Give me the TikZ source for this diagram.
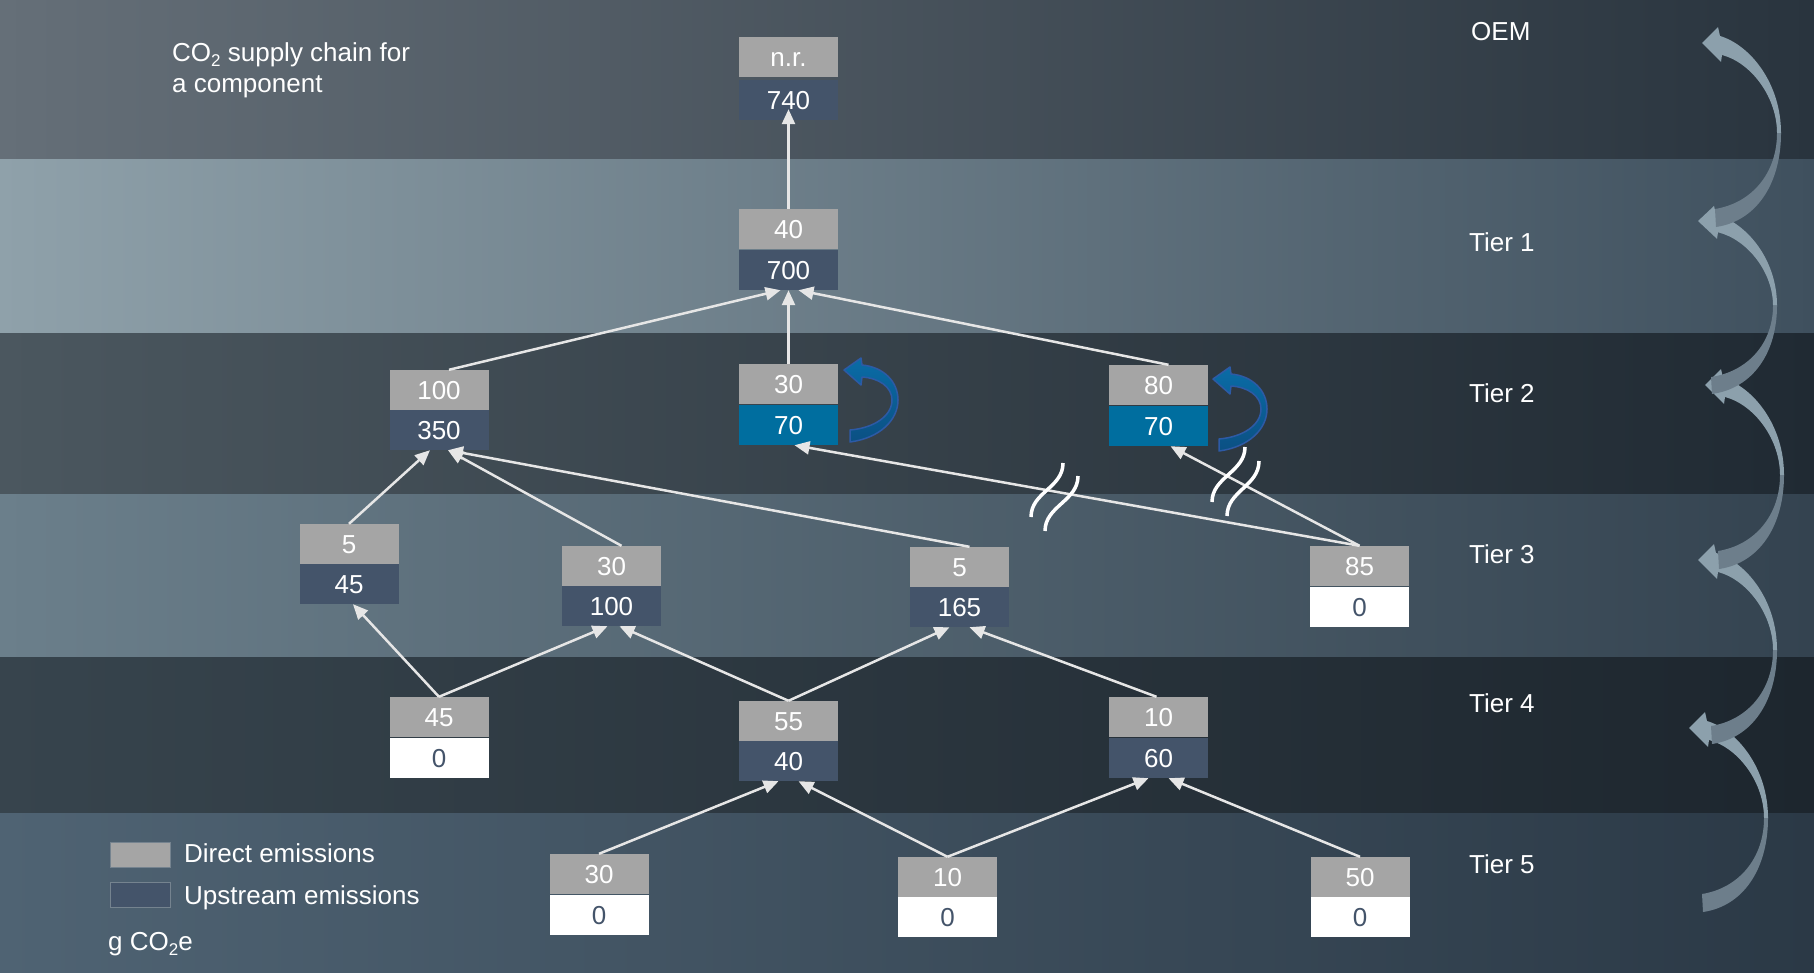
\documentclass[tikz,border=0pt]{standalone}
\usepackage{fontspec}
\setmainfont{Liberation Sans}
\usetikzlibrary{arrows.meta,calc}

\definecolor{dgray}{HTML}{A5A5A5}
\definecolor{navy}{HTML}{44546A}
\definecolor{hlblue}{HTML}{006E9F}
\definecolor{conn}{HTML}{E6E6E6}
\definecolor{arrlight}{HTML}{8CA0AC}
\definecolor{arrdark}{HTML}{6D7E8B}
\definecolor{loopTop}{HTML}{0A6CA6}
\definecolor{loopBot}{HTML}{0B5083}
\definecolor{loopEdge}{HTML}{2D5AA5}
\definecolor{lgedge}{HTML}{75838F}

\newcommand\subtwo{\raisebox{-0.22em}{\fontsize{17}{17}\selectfont 2}}
% one emission box: direct part on top, upstream part below (#7 = gap)
\newcommand\emibox[7][1]{%
  \node[direct] (#2g) at (#3,#4+20) {#5};
  \node[#7] (#2u) at (#3,#4+60+#1) {#6};}

\tikzset{
  direct/.style={fill=dgray, text=white, minimum width=99pt, minimum height=40pt, inner sep=0pt,
    text height=18.6pt, text depth=0pt},
  upstream/.style={direct, fill=navy},
  hl/.style={direct, fill=hlblue},
  nil/.style={direct, fill=white, text=navy},
  link/.style={draw=conn, line width=2.5pt, -{Triangle[length=15pt,width=13pt]}},
  brk/.style={draw=white, line width=3.5pt},
  lbl/.style={text=white, anchor=base west, inner sep=0pt},
  tierarrow/.pic={
    \fill[arrlight] (0,0) -- (16,-16) -- (18,-7) .. controls (48,2) and (79,40) .. (79,90)
      -- (75,90) .. controls (75,55) and (50,20) .. (20,12) -- (19,19) -- cycle;
    \fill[arrdark] (79,90) .. controls (79,140) and (55,178) .. (14,184)
      -- (13,166) .. controls (50,160) and (75,130) .. (75,90) -- cycle;
  },
  loopback/.pic={
    \shadedraw[top color=loopTop, bottom color=loopBot, draw=loopEdge, line width=1.5pt, line join=round]
      (0,0) -- (17,-12) -- (18,-5) .. controls (40,-3) and (54,12) .. (54,30)
      .. controls (54,50) and (36,68) .. (6,72) -- (6,60)
      .. controls (30,58) and (48,46) .. (48,30) .. controls (48,17) and (35,8) .. (18,7)
      -- (17,15) -- cycle;
  }
}

\begin{document}
\begin{tikzpicture}[x=1pt,y=-1pt,font=\fontsize{26}{31}\selectfont]
\useasboundingbox (0,0) rectangle (1814,972);

% tier bands
\shade[left color={rgb,255:red,101;green,111;blue,120}, middle color={rgb,255:red,76;green,88;blue,98}, right color={rgb,255:red,41;green,52;blue,62}] (0,0) rectangle (1814,159);
\shade[left color={rgb,255:red,143;green,161;blue,170}, middle color={rgb,255:red,111;green,130;blue,142}, right color={rgb,255:red,63;green,80;blue,94}] (0,159) rectangle (1814,333);
\shade[left color={rgb,255:red,75;green,87;blue,95}, middle color={rgb,255:red,55;green,67;blue,77}, right color={rgb,255:red,32;green,42;blue,51}] (0,333) rectangle (1814,494);
\shade[left color={rgb,255:red,107;green,127;blue,139}, middle color={rgb,255:red,83;green,103;blue,118}, right color={rgb,255:red,52;green,67;blue,80}] (0,494) rectangle (1814,657);
\shade[left color={rgb,255:red,55;green,68;blue,77}, middle color={rgb,255:red,43;green,55;blue,64}, right color={rgb,255:red,29;green,38;blue,46}] (0,657) rectangle (1814,813);
\shade[left color={rgb,255:red,79;green,99;blue,115}, middle color={rgb,255:red,65;green,83;blue,100}, right color={rgb,255:red,43;green,57;blue,70}] (0,813) rectangle (1814,972);

% title
\node[lbl] (title1) at (172,61) {CO\subtwo\ supply chain for};
\node[lbl] (title2) at (172,92) {a component};

% tier labels
\node[lbl] (oemlbl) at (1471,40) {OEM};
\node[lbl] (tier1) at (1469,251) {Tier 1};
\node[lbl] (tier2) at (1469,402) {Tier 2};
\node[lbl] (tier3) at (1469,563) {Tier 3};
\node[lbl] (tier4) at (1469,712) {Tier 4};
\node[lbl] (tier5) at (1469,873) {Tier 5};

% emission boxes
\emibox[3]{oem}{788.5}{37}{n.r.}{740}{upstream}
\emibox{ta}{788.5}{209}{40}{700}{upstream}
\emibox[0]{sa}{439}{370}{100}{350}{upstream}
\emibox{sb}{788.5}{364}{30}{70}{hl}
\emibox{sc}{1158.5}{365}{80}{70}{hl}
\emibox[0]{ra}{349}{524}{5}{45}{upstream}
\emibox[0]{rb}{611.5}{546}{30}{100}{upstream}
\emibox[0]{rc}{959.5}{547}{5}{165}{upstream}
\emibox{rd}{1359.5}{546}{85}{0}{nil}
\emibox{qa}{439}{697}{45}{0}{nil}
\emibox[0]{qb}{788.5}{701}{55}{40}{upstream}
\emibox{qc}{1158.5}{697}{10}{60}{upstream}
\emibox{pa}{599}{854}{30}{0}{nil}
\emibox[0]{pb}{947.5}{857}{10}{0}{nil}
\emibox[0]{pc}{1360}{857}{50}{0}{nil}

% supply links
\draw[link, shorten >=-11pt] (tag.north) -- (oemu.south);
\draw[link] ([xshift=10pt]sag.north) -- ([xshift=-8pt]tau.south);
\draw[link] (sbg.north) -- (tau.south);
\draw[link] ([xshift=10pt]scg.north) -- ([xshift=10pt]tau.south);
\draw[link] (rag.north) -- ([xshift=-9pt]sau.south);
\draw[link] ([xshift=10pt]rbg.north) -- ([xshift=9pt]sau.south);
\draw[link] ([xshift=10pt]rcg.north) -- ([xshift=9pt]sau.south);
\draw[link] (rdg.north) -- ([xshift=6pt]sbu.south);
\draw[link] (rdg.north) -- ([xshift=12pt]scu.south);
\draw[link] (qag.north) -- ([xshift=4pt]rau.south);
\draw[link] (qag.north) -- ([xshift=-4pt]rbu.south);
\draw[link] (qbg.north) -- ([xshift=8pt]rbu.south);
\draw[link] (qbg.north) -- ([xshift=-10pt]rcu.south);
\draw[link] ([xshift=-2pt]qcg.north) -- ([xshift=10pt]rcu.south);
\draw[link] (pag.north) -- ([xshift=-10pt]qbu.south);
\draw[link] (pbg.north) -- ([xshift=10pt]qbu.south);
\draw[link] (pbg.north) -- ([xshift=-10pt]qcu.south);
\draw[link] (pcg.north) -- ([xshift=10pt]qcu.south);

% breaks in the long links
\draw[brk] (1063,463) .. controls (1063,488) and (1031,492) .. (1031,517);
\draw[brk] (1078,476) .. controls (1078,501) and (1045,506) .. (1045,531);
\draw[brk] (1245,447) .. controls (1245,472) and (1212,477) .. (1212,502);
\draw[brk] (1259,461) .. controls (1259,486) and (1227,491) .. (1227,516);

% own-process loops
\pic at (844,370) {loopback};
\pic at (1213,379) {loopback};

% tier-to-tier arrows
\pic at (1689,728) {tierarrow};
\pic at (1698,560) {tierarrow};
\pic at (1705,385) {tierarrow};
\pic[yscale=0.94] at (1698,221) {tierarrow};
\pic at (1702,43) {tierarrow};

% legend
\node[fill=dgray, draw=lgedge, line width=1pt, minimum width=60pt, minimum height=25pt, inner sep=0pt] (legd) at (140,854.5) {};
\node[fill=navy, draw=lgedge, line width=1pt, minimum width=60pt, minimum height=25pt, inner sep=0pt] (legu) at (140,894.5) {};
\node[lbl] (legdt) at (184,862) {Direct emissions};
\node[lbl] (legut) at (184,904) {Upstream emissions};
\node[lbl] (unit) at (108,950) {g CO\subtwo e};
\end{tikzpicture}
\end{document}
